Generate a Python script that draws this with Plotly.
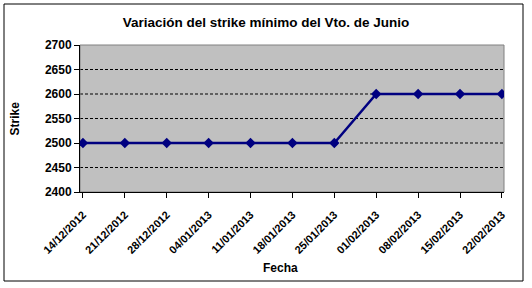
import plotly.graph_objects as go

fechas = ["14/12/2012", "21/12/2012", "28/12/2012", "04/01/2013", "11/01/2013",
          "18/01/2013", "25/01/2013", "01/02/2013", "08/02/2013", "15/02/2013", "22/02/2013"]
strike = [2500, 2500, 2500, 2500, 2500, 2500, 2500, 2600, 2600, 2600, 2600]
y_ticks = [2400, 2450, 2500, 2550, 2600, 2650, 2700]

fig = go.Figure()
fig.add_trace(go.Scatter(
    x=list(range(len(fechas))), y=strike, mode="lines+markers",
    line=dict(color="#000080", width=2.5),
    marker=dict(symbol="diamond", size=8, color="#000080"),
    showlegend=False,
))

fnt = "Arial, Liberation Sans, sans-serif"
fig.update_layout(
    width=532, height=288,
    margin=dict(l=80, r=28, t=45, b=96),
    paper_bgcolor="white", plot_bgcolor="#C0C0C0",
    font=dict(family=fnt, color="black"),
    title=dict(text="<b>Variación del strike mínimo del Vto. de Junio</b>",
               x=0.5, xref="container", xanchor="center", y=1 - 22/288, yanchor="middle",
               font=dict(size=13.5, family=fnt, color="black")),
    xaxis=dict(
        tickmode="array", tickvals=list(range(len(fechas))),
        ticktext=["<b>%s</b>" % f for f in fechas],
        tickangle=-45, tickfont=dict(size=11, family=fnt),
        ticklabelstandoff=6,
        range=[-0.07, 10.05], showgrid=False, zeroline=False,
        showline=True, linecolor="black", linewidth=1,
        ticks="outside", ticklen=5, tickcolor="black",
    ),
    yaxis=dict(
        tickmode="array", tickvals=y_ticks,
        ticktext=["<b>%d</b>" % v for v in y_ticks],
        tickfont=dict(size=12, family=fnt),
        range=[2400, 2700], showgrid=False, zeroline=False,
        showline=True, linecolor="black", linewidth=1,
        ticks="outside", ticklen=5, tickcolor="black",
    ),
)

# dotted gridlines
for v in y_ticks[1:-1]:
    fig.add_shape(type="line", xref="paper", yref="y", x0=0, x1=1, y0=v, y1=v,
                  line=dict(color="black", width=1, dash="3px,2px"), layer="below")
# plot area border
fig.add_shape(type="rect", xref="paper", yref="paper", x0=0, x1=1, y0=0, y1=1,
              line=dict(color="#808080", width=1), layer="below")
# chart outer border
fig.add_shape(type="rect", xref="paper", yref="paper",
              x0=(4-80)/424, x1=(523-80)/424, y0=-(281-192)/147, y1=1+(45-4)/147,
              line=dict(color="black", width=1))

fig.add_annotation(text="<b>Strike</b>", xref="paper", yref="paper",
                   x=(14-80)/424, y=0.5, textangle=-90, showarrow=False,
                   font=dict(size=12, family=fnt), xanchor="center", yanchor="middle")
fig.add_annotation(text="<b>Fecha</b>", xref="paper", yref="paper",
                   x=(280-80)/424, y=-(268-192)/147, showarrow=False,
                   font=dict(size=12, family=fnt), xanchor="center", yanchor="middle")

fig.write_html("out.html")
